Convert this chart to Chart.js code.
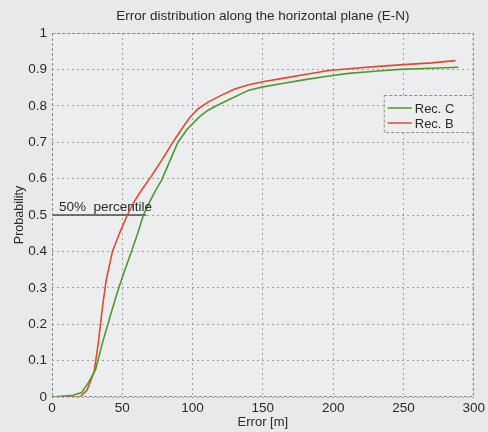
<!DOCTYPE html>
<html>
<head>
<meta charset="utf-8">
<script src="https://cdn.jsdelivr.net/npm/chart.js@4"></script>
<style>
html,body{margin:0;padding:0;background:#e8e9ea;}
#wrap{width:488px;height:432px;}
</style>
</head>
<body>
<div id="wrap"><canvas id="c" width="488" height="432"></canvas></div>
<script>
const chartTitle = "Error distribution along the horizontal plane (E-N)";
const xAxisTitle = "Error [m]";
const yAxisTitle = "Probability";
const seriesNames = ["Rec. C", "Rec. B"];

const recCx = [0, 15, 21, 26, 31, 36, 42, 47, 52, 56.5, 61, 65, 70, 74, 78, 84, 89.6, 96, 105, 111, 117, 125, 140, 150, 165, 180, 197, 211, 230, 247, 270, 289];
const recCy = [0, 0.005, 0.012, 0.04, 0.075, 0.15, 0.23, 0.294, 0.35, 0.40, 0.45, 0.50, 0.54, 0.57, 0.596, 0.65, 0.70, 0.735, 0.77, 0.788, 0.80, 0.815, 0.843, 0.852, 0.862, 0.872, 0.882, 0.889, 0.895, 0.900, 0.903, 0.906];

const recBx = [0, 20, 25, 30, 33, 36, 38.5, 43, 48, 53.6, 59, 64, 69.5, 78, 86, 92, 98, 104, 111, 120, 130, 140, 150, 165, 180, 197, 215, 235, 250, 270, 287];
const recBy = [0, 0, 0.02, 0.07, 0.15, 0.25, 0.32, 0.40, 0.45, 0.50, 0.54, 0.57, 0.60, 0.65, 0.70, 0.735, 0.768, 0.792, 0.81, 0.828, 0.846, 0.858, 0.866, 0.876, 0.886, 0.897, 0.903, 0.909, 0.913, 0.918, 0.924];

const percentileLabel = "50%  percentile";
const percentileX = [0, 67];
const percentileY = [0.5, 0.5];

const xTicks = [0, 50, 100, 150, 200, 250, 300];
const yTicks = [0, 0.1, 0.2, 0.3, 0.4, 0.5, 0.6, 0.7, 0.8, 0.9, 1];

function pts(xs, ys){ return xs.map((x,i)=>({x:x, y:ys[i]})); }

const FONT = "'Liberation Sans', Arial, sans-serif";
Chart.defaults.font.family = FONT;
Chart.defaults.color = '#2a2a2a';

const bgPlugin = {
  id:'bg',
  beforeDraw(chart){
    const c = chart.ctx;
    c.save();
    c.fillStyle = '#e8e9ea';
    c.fillRect(0,0,chart.width,chart.height);
    const a = chart.chartArea;
    c.fillStyle = '#ecedee';
    c.fillRect(a.left,a.top,a.right-a.left,a.bottom-a.top);
    c.restore();
  },
  afterDraw(chart){
    const c = chart.ctx, a = chart.chartArea;
    c.save();
    c.fillStyle = '#2a2a2a';
    c.font = "13.5px " + FONT;
    c.textAlign = 'center';
    c.textBaseline = 'middle';
    c.fillText(chartTitle, (a.left + a.right)/2, 16);
    c.restore();
  },
  afterDatasetsDraw(chart){
    const c = chart.ctx, a = chart.chartArea;
    const xs = chart.scales.x, ys = chart.scales.y;
    c.save();
    // frame
    c.strokeStyle = '#8a8a8a';
    c.lineWidth = 1;
    c.setLineDash([3,2]);
    c.strokeRect(a.left+0.5, a.top+0.5, a.right-a.left-1, a.bottom-a.top-1);
    c.setLineDash([]);
    // percentile label
    c.fillStyle = '#2a2a2a';
    c.font = "13.5px " + FONT;
    c.textBaseline = 'alphabetic';
    c.textAlign = 'left';
    c.fillText(percentileLabel, xs.getPixelForValue(5), ys.getPixelForValue(0.5) - 4);
    // legend box
    const items = chart.data.datasets.filter(d => seriesNames.includes(d.label));
    const bx = a.right - 90, by = a.top + 62, bw = 90, bh = 38;
    c.fillStyle = '#eeeeee';
    c.fillRect(bx, by, bw, bh);
    c.strokeStyle = '#8a8a8a';
    c.setLineDash([3,2]);
    c.strokeRect(bx+0.5, by+0.5, bw-1, bh-1);
    c.setLineDash([]);
    c.font = "13px " + FONT;
    c.textBaseline = 'middle';
    items.forEach((d,i)=>{
      const yy = by + 13 + i*15;
      c.strokeStyle = d.borderColor;
      c.lineWidth = 1.5;
      c.beginPath(); c.moveTo(bx+4, yy); c.lineTo(bx+28, yy); c.stroke();
      c.fillStyle = '#2a2a2a';
      c.fillText(d.label, bx+31, yy+1);
    });
    c.restore();
  }
};

new Chart(document.getElementById('c'), {
  type:'line',
  data:{
    datasets:[
      {label:seriesNames[0], data:pts(recCx,recCy), borderColor:'#4e9a2e', borderWidth:1.6, pointRadius:0, tension:0, fill:false},
      {label:seriesNames[1], data:pts(recBx,recBy), borderColor:'#e2492c', borderWidth:1.6, pointRadius:0, tension:0, fill:false},
      {label:'percentile', data:pts(percentileX,percentileY), borderColor:'#4a4a4a', borderWidth:1.5, pointRadius:0, fill:false}
    ]
  },
  options:{
    responsive:false,
    animation:false,
    devicePixelRatio:1,
    layout:{padding:{left:0,right:11,top:33,bottom:0}},
    plugins:{
      legend:{display:false},
      tooltip:{enabled:false},
      title:{display:false}
    },
    scales:{
      x:{
        type:'linear', min:0, max:300,
        afterBuildTicks(s){ s.ticks = xTicks.map(v=>({value:v})); },
        afterFit(s){ s.height = 35; },
        grid:{color:'#a0a0a0', lineWidth:1, drawTicks:false},
        border:{display:false, dash:[2,3]},
        ticks:{padding:3, color:'#2a2a2a', font:{size:13.5}},
        title:{display:true, text:xAxisTitle, color:'#2a2a2a', font:{size:13}, padding:{top:0,bottom:2}}
      },
      y:{
        type:'linear', min:0, max:1,
        afterBuildTicks(s){ s.ticks = yTicks.map(v=>({value:v})); },
        afterFit(s){ s.width = 52; },
        grid:{color:'#a0a0a0', lineWidth:1, drawTicks:false},
        border:{display:false, dash:[2,3]},
        ticks:{padding:5, color:'#2a2a2a', font:{size:13.5}, callback:v=>String(Math.round(v*10)/10)},
        title:{display:true, text:yAxisTitle, color:'#2a2a2a', font:{size:12.5}, padding:{top:12,bottom:0}}
      }
    }
  },
  plugins:[bgPlugin]
});
</script>
</body>
</html>
